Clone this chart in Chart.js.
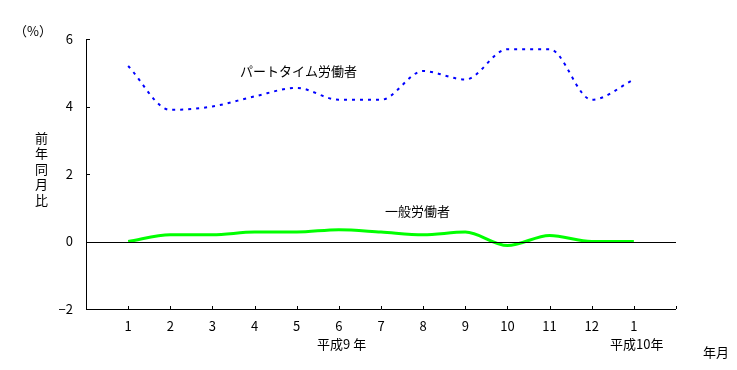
<!DOCTYPE html>
<html lang="ja">
<head>
<meta charset="utf-8">
<script src="https://cdn.jsdelivr.net/npm/chart.js@4/dist/chart.umd.min.js"></script>
<style>
  html, body { margin: 0; padding: 0; background: #fff; }
  #wrap { width: 737px; height: 370px; position: relative; }
</style>
</head>
<body>
<div id="wrap"><canvas id="chart" width="737" height="370"></canvas></div>
<script>
// ── Data ───────────────────────────────────────────────────────────

const MONTHS = ['1', '2', '3', '4', '5', '6', '7', '8', '9', '10', '11', '12', '1'];
const PART_TIME = [5.2, 3.9, 4.0, 4.3, 4.55, 4.2, 4.2, 5.05, 4.8, 5.7, 5.7, 4.2, 4.8];
const GENERAL = [0.0, 0.2, 0.2, 0.28, 0.28, 0.35, 0.28, 0.2, 0.28, -0.12, 0.18, 0.0, 0.0];
const Y_TICKS = [-2, 0, 2, 4, 6];

const FONT = '"Noto Sans CJK JP", "Noto Sans", sans-serif';

const toPoints = arr => arr.map((v, i) => ({ x: i + 1, y: v }));

// ── Axis lines, inside ticks, zero line and free labels ────────────

const decorPlugin = {
  id: 'decor',
  afterDraw(chart) {
    const { ctx, chartArea: a, scales: { x, y } } = chart;
    ctx.save();
    ctx.strokeStyle = '#000';
    ctx.lineWidth = 1;
    ctx.beginPath();
    // y axis + x axis
    ctx.moveTo(a.left + 0.5, a.top);
    ctx.lineTo(a.left + 0.5, a.bottom + 0.5);
    ctx.lineTo(a.right, a.bottom + 0.5);
    // zero line
    const y0 = Math.round(y.getPixelForValue(0)) + 0.5;
    ctx.moveTo(a.left, y0);
    ctx.lineTo(a.right, y0);
    // y ticks (inside)
    Y_TICKS.forEach(v => {
      const py = Math.round(y.getPixelForValue(v)) + 0.5;
      ctx.moveTo(a.left, py);
      ctx.lineTo(a.left + 4, py);
    });
    // x ticks (inside)
    for (let i = 1; i <= MONTHS.length + 1; i++) {
      const px = Math.round(x.getPixelForValue(i)) + 0.5;
      ctx.moveTo(px, a.bottom);
      ctx.lineTo(px, a.bottom - 3);
    }
    ctx.stroke();

    ctx.fillStyle = '#000';
    ctx.textBaseline = 'middle';
    ctx.font = `13px ${FONT}`;
    ctx.textAlign = 'left';
    ctx.fillText('（%）', 14, 31);
    ctx.fillText('パートタイム労働者', 240, 71);
    ctx.fillText('一般労働者', 385, 211);
    ctx.fillText('平成9 年', 317, 344);
    ctx.fillText('平成10年', 610, 344);
    ctx.fillText('年月', 703, 352);
    ctx.textAlign = 'center';
    ['前', '年', '同', '月', '比'].forEach((ch, i) => ctx.fillText(ch, 41.5, 138 + i * 15.5));
    ctx.restore();
  },
};

new Chart(document.getElementById('chart'), {
  type: 'line',
  data: {
    datasets: [
      {
        label: 'パートタイム労働者',
        data: toPoints(PART_TIME),
        borderColor: '#0000ff',
        borderWidth: 2,
        borderDash: [3, 5],
        pointRadius: 0,
        cubicInterpolationMode: 'monotone',
      },
      {
        label: '一般労働者',
        data: toPoints(GENERAL),
        borderColor: '#00ff00',
        borderWidth: 3,
        pointRadius: 0,
        cubicInterpolationMode: 'monotone',
      },
    ],
  },
  options: {
    responsive: false,
    animation: false,
    layout: { padding: { top: 39, right: 61, left: 0, bottom: 0 } },
    plugins: { legend: { display: false }, tooltip: { enabled: false } },
    scales: {
      x: {
        type: 'linear',
        min: 0,
        max: MONTHS.length + 1,
        grid: { display: false },
        border: { display: false },
        afterFit: s => { s.height = 61; },
        afterBuildTicks: s => { s.ticks = MONTHS.map((_, i) => ({ value: i + 1 })); },
        ticks: {
          autoSkip: false,
          maxRotation: 0,
          padding: 1,
          color: '#000',
          font: { family: FONT, size: 13 },
          callback: v => MONTHS[v - 1] ?? '',
        },
      },
      y: {
        min: -2,
        max: 6,
        grid: { display: false },
        border: { display: false },
        afterFit: s => { s.width = 86; },
        afterBuildTicks: s => { s.ticks = Y_TICKS.map(v => ({ value: v })); },
        ticks: {
          padding: 5,
          color: '#000',
          font: { family: FONT, size: 13 },
          callback: v => (v < 0 ? '−' + Math.abs(v) : String(v)),
        },
      },
    },
  },
  plugins: [decorPlugin],
});
</script>
</body>
</html>
